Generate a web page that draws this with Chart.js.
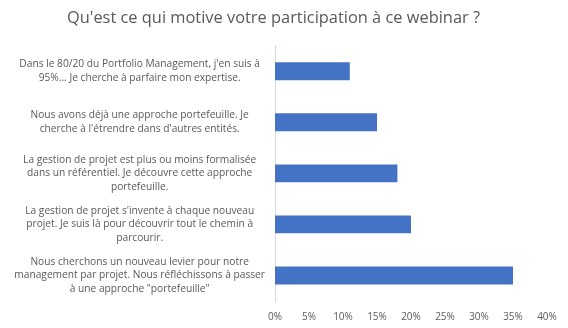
<!DOCTYPE html>
<html>
<head>
<meta charset="utf-8">
<script src="https://cdn.jsdelivr.net/npm/chart.js@4/dist/chart.umd.min.js"></script>
<style>
html,body{margin:0;padding:0;background:#fff;}
#wrap{width:568px;height:328px;position:relative;}
</style>
</head>
<body>
<div id="wrap"><canvas id="c" width="568" height="328"></canvas></div>
<script>
const titleText = "Qu'est ce qui motive votre participation à ce webinar ?";
const categories = [
  ["Dans le 80/20 du Portfolio Management, j'en suis à", "95%... Je cherche à parfaire mon expertise."],
  ["Nous avons déjà une approche portefeuille. Je", "cherche à l'étrendre dans d'autres entités."],
  ["La gestion de projet est plus ou moins formalisée", "dans un référentiel. Je découvre cette approche", "portefeuille."],
  ["La gestion de projet s'invente à chaque nouveau", "projet. Je suis là pour découvrir tout le chemin à", "parcourir."],
  ["Nous cherchons un nouveau levier pour notre", "management par projet. Nous réfléchissons à passer", "à une approche \"portefeuille\""]
];
const values = [11, 15, 18, 20, 35];
const xTicks = [0, 5, 10, 15, 20, 25, 30, 35, 40];

new Chart(document.getElementById('c'), {
  type: 'bar',
  data: {
    labels: categories,
    datasets: [{
      data: values,
      backgroundColor: '#4472c4',
      barPercentage: 0.7,
      categoryPercentage: 0.5
    }]
  },
  options: {
    indexAxis: 'y',
    responsive: false,
    animation: false,
    layout: {padding: {left: 0, right: 21, top: 0, bottom: 0}},
    plugins: {
      legend: {display: false},
      tooltip: {enabled: false},
      title: {
        display: true,
        text: titleText,
        color: '#595959',
        font: {family: 'Open Sans', size: 16.4, weight: 'normal', lineHeight: 1.2},
        padding: {top: 8, bottom: 18}
      }
    },
    scales: {
      x: {
        min: 0, max: 40,
        afterBuildTicks: (s) => { s.ticks = xTicks.map(v => ({value: v})); },
        afterFit: (s) => { s.height = 27; s.paddingLeft = 0; s.paddingRight = 0; },
        grid: {display: false, drawTicks: false},
        border: {display: false},
        ticks: {
          color: '#595959',
          font: {family: 'Open Sans', size: 10, lineHeight: 1.2},
          padding: 10,
          maxRotation: 0,
          callback: (v) => v + '%'
        }
      },
      y: {
        afterFit: (s) => { s.width = 275; s.paddingTop = 0; s.paddingBottom = 0; },
        grid: {display: false, drawTicks: false},
        border: {display: true, color: '#d9d9d9'},
        ticks: {
          color: '#595959',
          font: {family: 'Open Sans', size: 10.2, lineHeight: 1.32},
          crossAlign: 'center',
          padding: 10,
          autoSkip: false
        }
      }
    }
  }
});
</script>
</body>
</html>
